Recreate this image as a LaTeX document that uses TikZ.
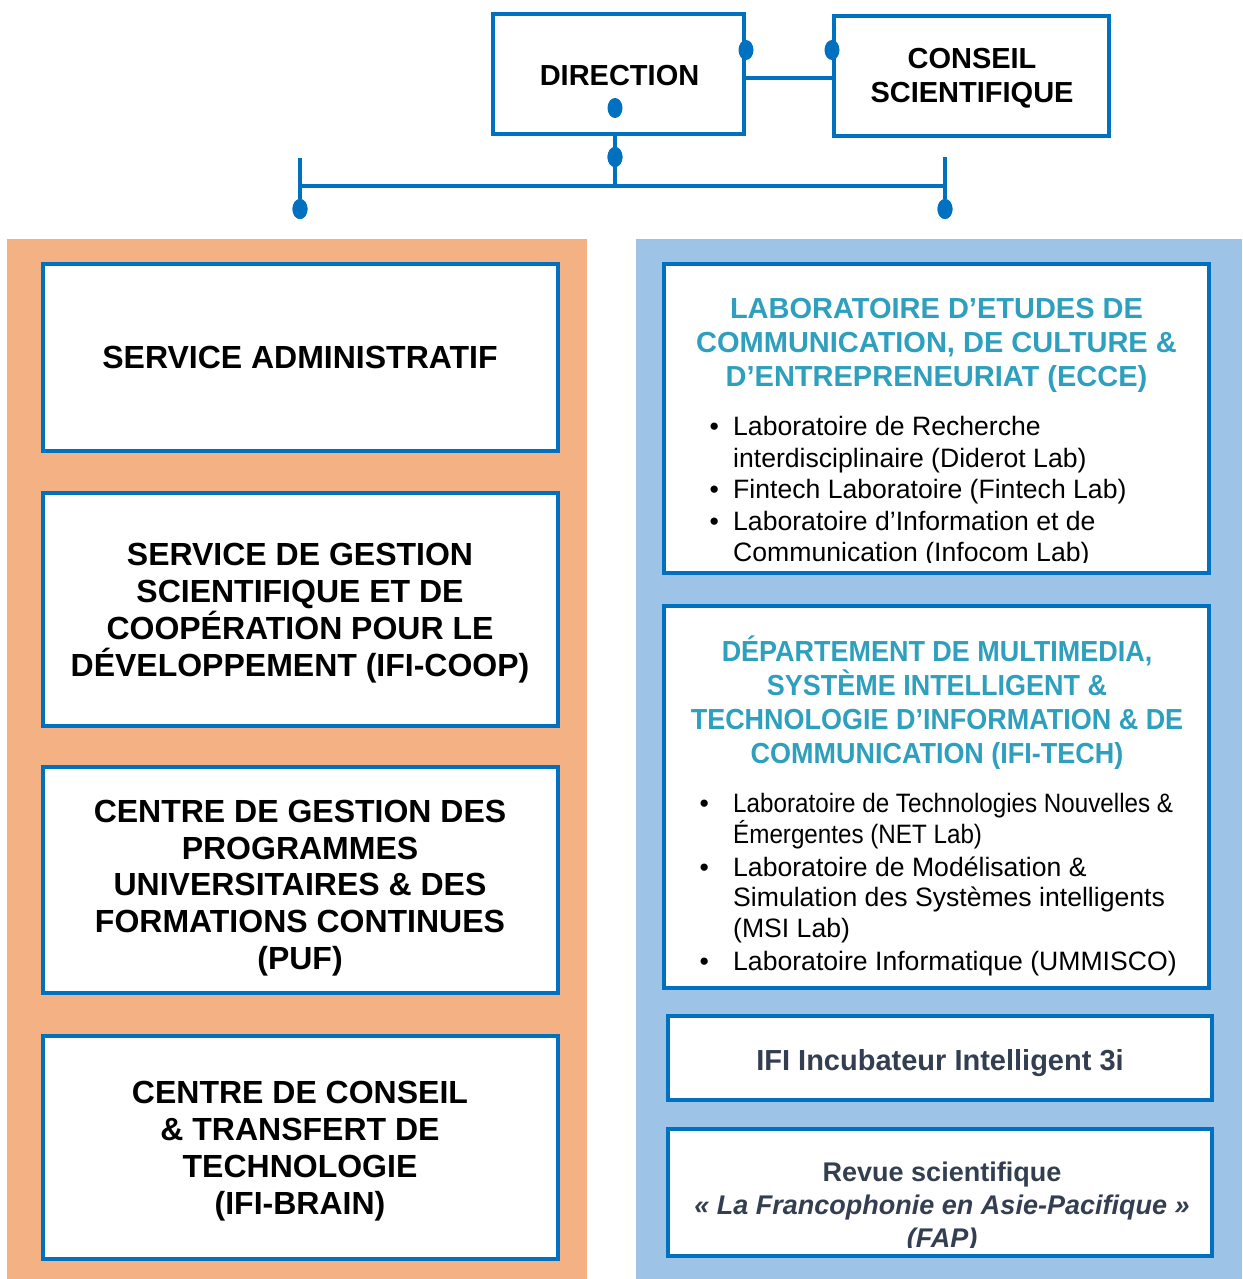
\documentclass[tikz,border=0pt]{standalone}
\usepackage{fontspec}
\setmainfont{Liberation Sans}
\newfontfamily\condfont[FakeStretch=0.91]{Liberation Sans}
\newfontfamily\condtitle[FakeStretch=0.93]{Liberation Sans}
\usetikzlibrary{shapes.geometric}
\definecolor{bline}{RGB}{0,112,192}
\definecolor{panelorange}{RGB}{244,177,131}
\definecolor{panelblue}{RGB}{157,195,230}
\definecolor{tealt}{RGB}{46,160,190}
\definecolor{slate}{RGB}{51,63,80}
\tikzset{
  boxn/.style={draw=bline, line width=4pt, fill=white, rectangle, inner sep=0pt, outer sep=0pt},
  dotn/.style={ellipse, fill=bline, draw=none, inner sep=0pt, minimum width=15pt, minimum height=20pt},
  conn/.style={draw=bline, line width=3.5pt},
  ttlL/.style={font=\bfseries\fontsize{32}{36.8}\selectfont, align=center, inner sep=0pt},
  ttlT/.style={font=\bfseries\fontsize{29}{34}\selectfont, align=center, inner sep=0pt},
  ttlR/.style={text=tealt, font=\bfseries\fontsize{29}{34}\selectfont, align=center, inner sep=0pt},
  ttlRc/.style={text=tealt, font=\condtitle\bfseries\fontsize{29}{34}\selectfont, align=center, inner sep=0pt},
  lstA/.style={anchor=north west, inner sep=0pt, font=\fontsize{26.6}{31.5}\selectfont},
  lstB/.style={anchor=north west, inner sep=0pt, font=\fontsize{26.6}{30.5}\selectfont},
  darkt/.style={text=slate, font=\bfseries\fontsize{29}{34}\selectfont, align=center, inner sep=0pt},
  revt/.style={text=slate, font=\bfseries\fontsize{27}{33}\selectfont, align=center, inner sep=0pt},
}
\begin{document}
\begin{tikzpicture}[x=1pt,y=-1pt]
\useasboundingbox (0,0) rectangle (1242,1279);
\fill[white] (0,0) rectangle (1242,1279);
\fill[panelorange] (7,239) rectangle (587,1279);
\fill[panelblue] (636,239) rectangle (1242,1279);

% top boxes
\node[boxn, minimum width=251pt, minimum height=120pt] (dir) at (618.5,74) {};
\node[ttlT] (dirT) at (619.5,76) {DIRECTION};
\node[boxn, minimum width=275pt, minimum height=120pt] (cons) at (971.5,76) {};
\node[ttlT] (consT) at (972,78) {CONSEIL\\SCIENTIFIQUE};

% dots
\node[dotn] (d1) at (746,50) {};
\node[dotn] (d2) at (832,50) {};
\node[dotn] (d3) at (615,108) {};
\node[dotn] (d4) at (615,157) {};
\node[dotn] (dL) at (300,209) {};
\node[dotn] (dR) at (945,209) {};

% connectors
\coordinate (bus) at (615,186);
\coordinate (busLtop) at (300,158);
\coordinate (busRtop) at (945,157);
\draw[conn] (dir.east |- 0,78) -- (cons.west |- 0,78);
\draw[conn] (dir.south -| d4) -- (bus);
\draw[conn] (busLtop |- bus) -- (busRtop |- bus);
\draw[conn] (busLtop) -- (dL);
\draw[conn] (busRtop) -- (dR);
\node[dotn] at (d4) {};
\node[dotn] at (dL) {};
\node[dotn] at (dR) {};

% left boxes
\node[boxn, minimum width=515pt, minimum height=187pt] (sa) at (300.5,357.5) {};
\node[ttlL] (saT) at (300,357) {SERVICE ADMINISTRATIF};
\node[boxn, minimum width=515pt, minimum height=233pt] (coop) at (300.5,609.5) {};
\node[ttlL] (coopT) at (300,613) {SERVICE DE GESTION\\SCIENTIFIQUE ET DE\\COOPÉRATION POUR LE\\DÉVELOPPEMENT (IFI-COOP)};
\node[boxn, minimum width=515pt, minimum height=226pt] (puf) at (300.5,880) {};
\node[ttlL] (pufT) at (300,888) {CENTRE DE GESTION DES\\PROGRAMMES\\UNIVERSITAIRES \& DES\\FORMATIONS CONTINUES\\(PUF)};
\node[boxn, minimum width=515pt, minimum height=223pt] (brain) at (300.5,1147.5) {};
\node[ttlL] (brainT) at (300,1151) {CENTRE DE CONSEIL\\\& TRANSFERT DE\\TECHNOLOGIE\\(IFI-BRAIN)};

% right boxes
\node[boxn, minimum width=545pt, minimum height=309pt] (ecce) at (936.5,418.5) {};
\node[ttlR] (ecceT) at (936.5,345) {LABORATOIRE D’ETUDES DE\\COMMUNICATION, DE CULTURE \&\\D’ENTREPRENEURIAT (ECCE)};
\begin{scope}
\clip (666,266) rectangle (1207,562);
\node[lstA] (ecceL) at (695,413.5) {\begin{tabular}{@{}l@{}l@{}}
\makebox[38pt]{•} & Laboratoire de Recherche\\
 & interdisciplinaire (Diderot Lab)\\
\makebox[38pt]{•} & Fintech Laboratoire (Fintech Lab)\\
\makebox[38pt]{•} & Laboratoire d’Information et de\\
 & Communication (Infocom Lab)
\end{tabular}};
\end{scope}

\node[boxn, minimum width=545pt, minimum height=382pt] (tech) at (936.5,797) {};
\node[ttlRc] (techT) at (937,702.5) {DÉPARTEMENT DE MULTIMEDIA,\\SYSTÈME INTELLIGENT \&\\TECHNOLOGIE D’INFORMATION \& DE\\COMMUNICATION (IFI-TECH)};
\node[lstB] (techL) at (675,791.3) {\begin{tabular}{@{}l@{}l@{}}
\makebox[58pt]{•} & {\condfont Laboratoire de Technologies Nouvelles \&}\\
 & \smash{\condfont Émergentes (NET Lab)}\\[2.5pt]
\makebox[58pt]{•} & Laboratoire de \smash{Modélisation} \&\\
 & Simulation des \smash{Systèmes} intelligents\\
 & (MSI Lab)\\[2.5pt]
\makebox[58pt]{•} & Laboratoire Informatique (UMMISCO)
\end{tabular}};

\node[boxn, minimum width=544pt, minimum height=84pt] (incub) at (940,1058) {};
\node[darkt] (incubT) at (940,1063) {IFI Incubateur Intelligent 3i};

\node[boxn, minimum width=544pt, minimum height=127pt] (fap) at (940,1192.5) {};
\begin{scope}
\clip (671,1131) rectangle (1209,1247);
\node[revt] (fapT) at (942,1208) {Revue scientifique\\\textit{« La Francophonie en Asie-Pacifique »}\\\textit{(FAP)}};
\end{scope}
\end{tikzpicture}
\end{document}
